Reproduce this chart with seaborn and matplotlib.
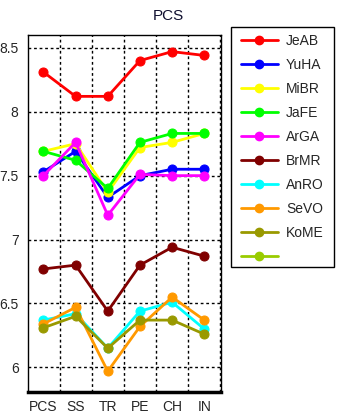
import matplotlib
matplotlib.use("Agg")
import matplotlib.pyplot as plt
import seaborn as sns
import pandas as pd
import numpy as np
from matplotlib.lines import Line2D
from matplotlib.patches import Rectangle
from matplotlib.ticker import MultipleLocator, FixedLocator, NullFormatter

sns.set_style("white")
plt.rcParams['font.family'] = ['Liberation Sans', 'DejaVu Sans']

categories = ["PCS", "SS", "TR", "PE", "CH", "IN"]
series_names = ["JeAB", "YuHA", "MiBR", "JaFE", "ArGA", "BrMR", "AnRO", "SeVO", "KoME", ""]
colors = ["#ff0000", "#0000ff", "#ffff00", "#00ff00", "#ff00ff", "#800000",
          "#00ffff", "#ff9900", "#999900", "#99cc00"]

JeAB = [8.31, 8.12, 8.12, 8.40, 8.47, 8.44]
YuHA = [7.53, 7.69, 7.33, 7.50, 7.55, 7.55]
MiBR = [7.69, 7.75, 7.37, 7.72, 7.76, 7.83]
JaFE = [7.69, 7.62, 7.40, 7.76, 7.83, 7.83]
ArGA = [7.50, 7.76, 7.19, 7.51, 7.50, 7.50]
BrMR = [6.77, 6.80, 6.44, 6.80, 6.94, 6.87]
AnRO = [6.37, 6.42, 6.15, 6.44, 6.51, 6.30]
SeVO = [6.34, 6.47, 5.97, 6.32, 6.55, 6.37]
KoME = [6.31, 6.40, 6.15, 6.37, 6.37, 6.26]
Unnamed = [np.nan] * 6

values = [JeAB, YuHA, MiBR, JaFE, ArGA, BrMR, AnRO, SeVO, KoME, Unnamed]

W, H = 339, 419
fig = plt.figure(figsize=(W / 100, H / 100), dpi=100)
ax = fig.add_axes([28.3 / W, 1 - 391.7 / H, (220.7 - 28.3) / W, (391.7 - 35) / H])

x = np.arange(len(categories))
for name, vals, c in zip(series_names, values, colors):
    df = pd.DataFrame({"x": x, "y": vals})
    if df["y"].notna().any():
        sns.lineplot(data=df, x="x", y="y", ax=ax, color=c, lw=2, marker="o",
                     markersize=6.5, markeredgecolor=c, legend=False)

ax.set_xlim(-0.47, 5.51)
ax.set_ylim(5.81, 8.6)
ax.set_xlabel("")
ax.set_ylabel("")

ax.xaxis.set_major_locator(FixedLocator(np.arange(0.5, 6.0, 1.0)))
ax.xaxis.set_major_formatter(NullFormatter())
ax.xaxis.set_minor_locator(FixedLocator(x))
ax.set_xticklabels(categories, minor=True)
ax.tick_params(axis="x", which="major", length=4, width=1, direction="out", color="black")
ax.tick_params(axis="x", which="minor", length=0, labelsize=10, pad=6)

ax.yaxis.set_major_locator(MultipleLocator(0.5))
ax.yaxis.set_minor_locator(MultipleLocator(0.1))
ax.yaxis.set_major_formatter(plt.FuncFormatter(lambda v, p: f"{v:g}"))
ax.tick_params(axis="y", which="major", length=5, width=1, direction="out", labelsize=10, pad=2, color="black")
ax.tick_params(axis="y", which="minor", length=3, width=1, direction="out", color="black")

ax.grid(True, which="major", color="black", linestyle=(0, (2, 2)), linewidth=1)
for s in ["top", "right", "left"]:
    ax.spines[s].set_color("black")
    ax.spines[s].set_linewidth(1)
ax.spines["bottom"].set_color("black")
ax.spines["bottom"].set_linewidth(2.5)

fig.text(168 / W, 1 - 16 / H, "PCS", ha="center", va="center", fontsize=11, color="#101030")

# legend frame drawn manually
fig.patches.append(Rectangle((231 / W, 1 - 267 / H), (334 - 231) / W, (267 - 27) / H,
                             transform=fig.transFigure, fill=False, edgecolor="black",
                             linewidth=1, zorder=5))
handles = [Line2D([0], [0], color=c, lw=2, marker="o", markersize=6) for c in colors]
leg = fig.legend(handles, series_names, loc="upper left",
                 bbox_to_anchor=(238 / W, 1 - 31 / H), frameon=False, borderaxespad=0,
                 fontsize=10, handlelength=2.65, labelspacing=0.72, borderpad=0.2,
                 handletextpad=0.6)
fig.savefig("out.png", dpi=100)
